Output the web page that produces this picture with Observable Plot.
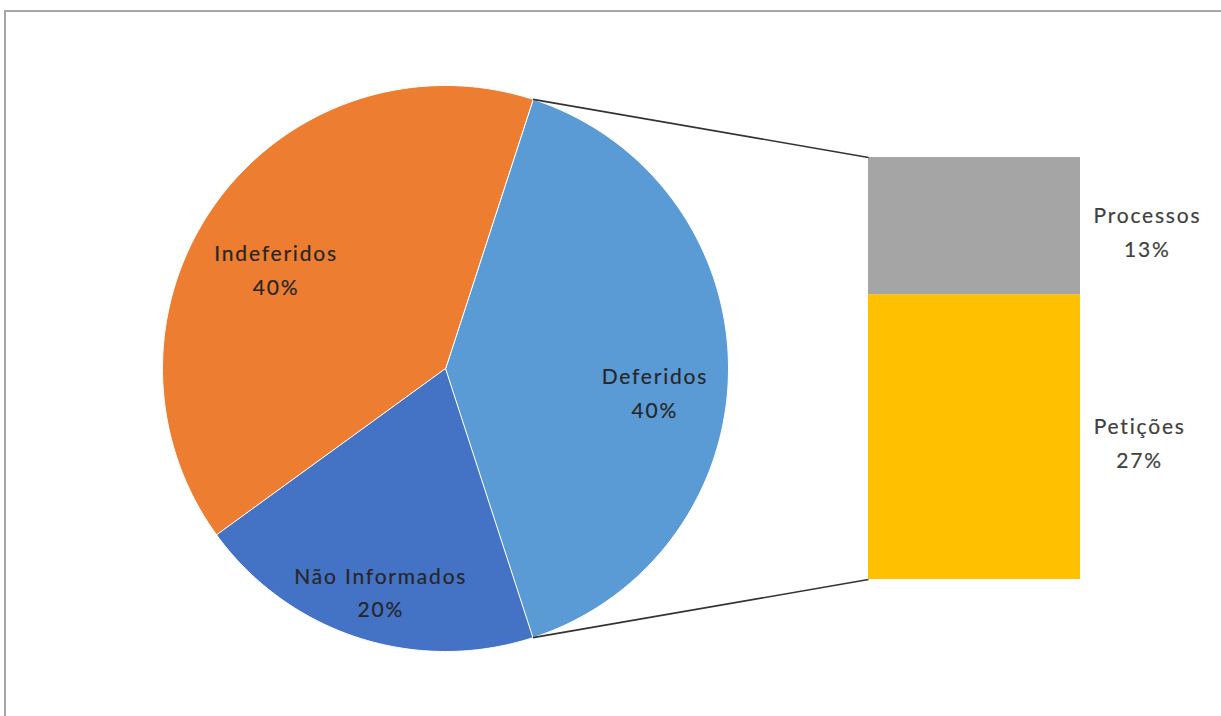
<!DOCTYPE html>
<html><head><meta charset="utf-8">
<script src="https://cdn.jsdelivr.net/npm/d3@7"></script>
<script src="https://cdn.jsdelivr.net/npm/@observablehq/plot@0.6"></script>
<style>
html,body{margin:0;padding:0;background:#fff;overflow:hidden;}
#wrap{position:relative;width:1221px;height:716px;overflow:hidden;}
#wrap svg{display:block;position:absolute;left:0;top:0;}
#border{position:absolute;left:4px;top:10px;width:1300px;height:800px;border-top:2px solid #a6a6a6;border-left:2px solid #a6a6a6;pointer-events:none;}
#wrap svg text{letter-spacing:1.8px;}
</style></head><body><div id="wrap"><div id="border"></div></div>
<script>
// ---- data ----
const pieCategories = ["Deferidos", "Não Informados", "Indeferidos"];
const pieValues = [40, 20, 40];
const barCategories = ["Petições", "Processos"]; // bottom to top, split of "Deferidos"
const barValues = [27, 13];
const pieColors = ["#5B9BD5", "#4472C4", "#ED7D31"];
const barColors = ["#FFC000", "#A5A5A5"];

// ---- layout ----
const W = 1221, H = 716;
const CX = 445, CY = 368, R = 283;          // pie centre & radius (px)
const BAR_LEFT = 868, BAR_W = 212, BAR_H = 422; // bar (px)
const LABEL_R = 0.74, LABEL_DY = 22, LABEL_GAP = 13;
const FONT = "Lato, 'Open Sans', sans-serif";
const FS = 21, LS = 1.8, LH = 1.6;

const total = d3.sum(pieValues);
const splitSpan = pieValues[0] / total * 2 * Math.PI;
const start = Math.PI / 2 - splitSpan / 2;
const arcs = d3.pie().sort(null).value(d => d).startAngle(start).endAngle(start + 2 * Math.PI)(pieValues);

const slicePts = [];
arcs.forEach((a, i) => {
  const name = pieCategories[i];
  slicePts.push({name, x: 0, y: 0});
  const n = Math.max(2, Math.ceil((a.endAngle - a.startAngle) / (Math.PI / 360)));
  for (let k = 0; k <= n; k++) {
    const t = a.startAngle + (a.endAngle - a.startAngle) * k / n;
    slicePts.push({name, x: Math.sin(t), y: Math.cos(t)});
  }
});

const pieLabels = arcs.map((a, i) => {
  const m = (a.startAngle + a.endAngle) / 2;
  return {text: pieCategories[i] + "\n" + pieValues[i] + "%", x: LABEL_R * Math.sin(m), y: LABEL_R * Math.cos(m)};
});

// bar in pie units
const bx1 = (BAR_LEFT - CX) / R, bx2 = (BAR_LEFT + BAR_W - CX) / R;
const bh = BAR_H / R, k = bh / d3.sum(barValues);
let acc = -bh / 2;
const barRects = barValues.map((v, i) => {
  const r = {name: barCategories[i], x1: bx1, x2: bx2, y1: acc, y2: acc + v * k};
  acc += v * k; return r;
});

const ctx = document.createElement("canvas").getContext("2d");
ctx.font = `${FS}px ${FONT}`;
const barLabels = barRects.map((r, i) => {
  const lines = [barCategories[i], barValues[i] + "%"];
  const w = d3.max(lines, l => ctx.measureText(l).width + LS * l.length);
  return {text: lines.join("\n"), x: bx2 + (LABEL_GAP + w / 2) / R, y: (r.y1 + r.y2) / 2};
});

const split = arcs[0];
const connectors = [
  {x1: Math.sin(split.startAngle), y1: Math.cos(split.startAngle), x2: bx1, y2: bh / 2},
  {x1: Math.sin(split.endAngle), y1: Math.cos(split.endAngle), x2: bx1, y2: -bh / 2}
];

const chart = Plot.plot({
  width: W, height: H, margin: 0,
  x: {domain: [-CX / R, (W - CX) / R], axis: null},
  y: {domain: [-(H - CY) / R, CY / R], axis: null},
  color: {domain: [...pieCategories, ...barCategories], range: [...pieColors, ...barColors]},
  style: {background: "transparent", fontFamily: FONT},
  marks: [
    Plot.line(slicePts, {x: "x", y: "y", z: "name", fill: "name", stroke: "white", strokeWidth: 1, curve: "linear-closed"}),
    Plot.rect(barRects, {x1: "x1", x2: "x2", y1: "y1", y2: "y2", fill: "name"}),
    Plot.link(connectors, {x1: "x1", y1: "y1", x2: "x2", y2: "y2", stroke: "#333", strokeWidth: 1.6}),
    Plot.text(pieLabels, {x: "x", y: "y", dy: LABEL_DY, text: "text", fontSize: FS, lineHeight: LH, fill: "#262626", stroke: "#262626", strokeWidth: 0.2}),
    Plot.text(barLabels, {x: "x", y: "y", dy: 3, text: "text", fontSize: FS, lineHeight: LH, fill: "#404040", stroke: "#404040", strokeWidth: 0.2})
  ]
});
document.getElementById("wrap").prepend(chart);
</script>
</body></html>
